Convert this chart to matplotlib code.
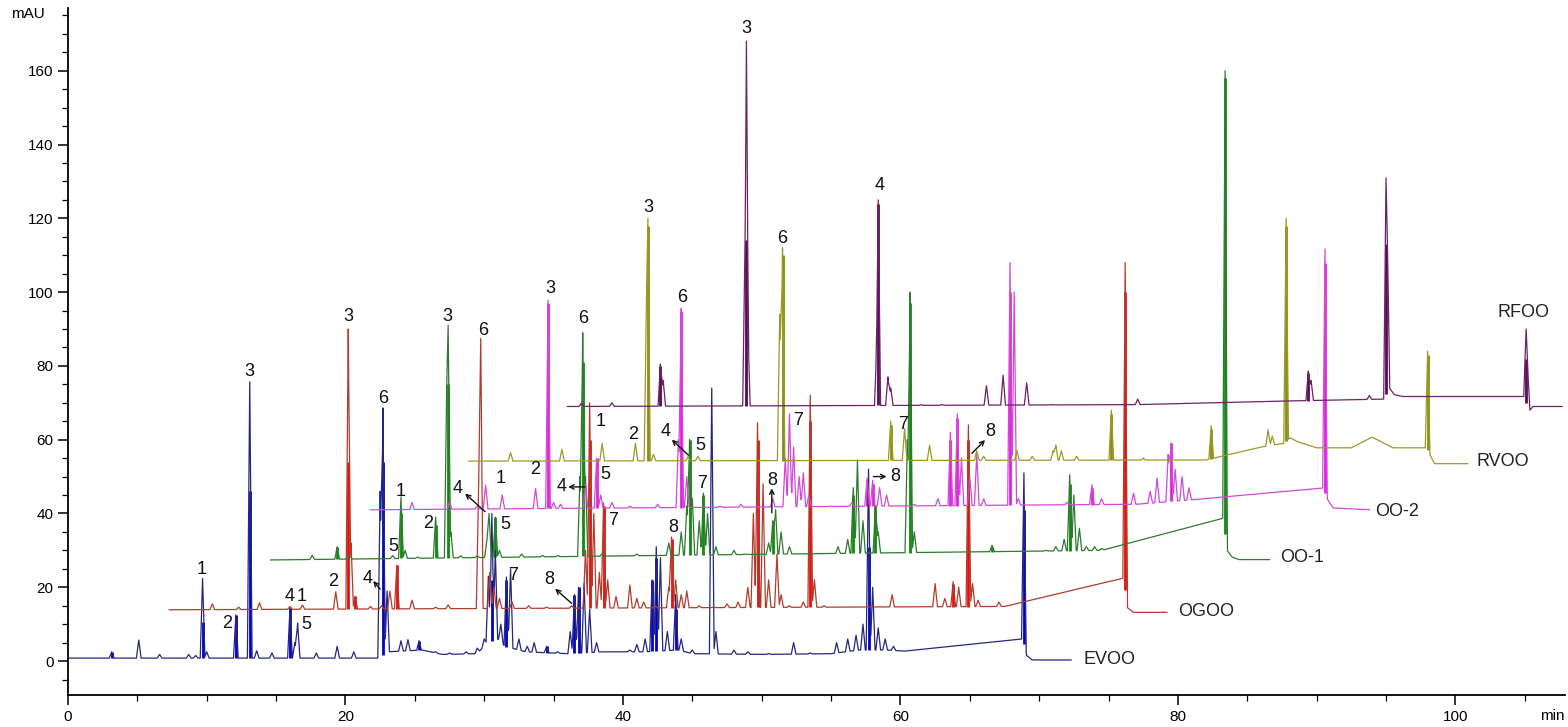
import numpy as np
import matplotlib.pyplot as plt
from matplotlib.ticker import MultipleLocator

plt.rcParams['font.family'] = ['Liberation Sans', 'DejaVu Sans']

# ---- trace data: baseline knots (min, mAU), peak apexes, integration marks ----
names = ["EVOO", "OGOO", "OO-1", "OO-2", "RVOO", "RFOO"]
line_colors = ["#27277a", "#b23c2c", "#2f7a2f", "#d24ad2", "#9a9a28", "#6b2266"]
fill_colors = ["#0000d0", "#e41010", "#108a10", "#e020e0", "#8c8c10", "#580a58"]

evoo_base = [(0, 0.8), (22.4, 0.8), (23.0, 2.5), (25.5, 3.0), (27.0, 1.8), (29.5, 2.0),
             (30.2, 5.0), (31.0, 6.0), (31.5, 4.0), (33.0, 2.5), (36.0, 2.0), (38.5, 2.5),
             (41.5, 2.5), (44.0, 3.0), (45.0, 2.0), (50.0, 1.8), (55.0, 2.0), (57.0, 3.0),
             (59.0, 3.0), (60.3, 2.7), (68.8, 6.0), (69.1, 1.5), (69.5, 0.3), (72.3, 0.3)]
evoo_peaks = [(3.15, 2.5), (5.1, 5.7), (6.6, 1.8), (8.7, 1.8), (9.2, 1.5), (9.7, 22.4),
              (10.0, 2.5), (12.1, 12.5), (13.1, 75.7), (13.6, 2.8), (14.7, 2.2), (16.0, 14.4),
              (16.35, 5.0), (16.55, 10.3), (17.9, 2.2), (19.4, 4.0), (20.6, 2.5), (22.5, 46.0),
              (22.7, 68.6), (23.0, 19.0), (24.0, 5.5), (24.5, 5.8), (25.3, 5.5), (26.5, 2.5),
              (27.5, 2.2), (28.7, 2.5), (29.5, 3.5), (30.0, 6.0), (30.3, 23.0), (30.55, 40.0),
              (30.8, 30.0), (31.2, 10.0), (31.6, 22.8), (31.9, 25.0), (32.5, 6.0), (33.1, 4.0),
              (33.6, 5.0), (34.5, 4.0), (35.3, 2.5), (36.2, 8.0), (36.5, 18.0), (36.8, 20.0),
              (37.2, 21.0), (37.6, 14.0), (38.1, 5.0), (39.5, 2.5), (40.5, 3.0), (41.0, 4.5),
              (41.6, 6.0), (42.1, 22.0), (42.4, 31.0), (42.7, 28.0), (43.2, 8.0), (43.8, 18.0),
              (44.2, 6.0), (45.0, 3.0), (46.4, 74.0), (46.7, 8.0), (48.0, 3.0), (49.0, 2.5),
              (50.5, 2.0), (52.3, 5.0), (53.5, 2.2), (55.4, 5.0), (56.2, 6.0), (56.8, 7.0),
              (57.3, 10.0), (57.7, 52.0), (58.0, 20.0), (58.4, 9.0), (58.9, 6.0), (59.5, 4.0),
              (68.9, 51.0)]
evoo_fills = [(3.15, 2.5), (9.7, 10.6), (12.1, 12.5), (13.1, 46.0), (16.0, 14.4), (22.7, 54.0),
              (25.3, 5.5), (30.55, 22.0), (31.6, 22.0), (34.5, 4.0), (36.5, 18.0), (36.8, 20.0),
              (42.1, 22.0), (42.4, 28.0), (43.8, 14.0), (57.7, 31.0), (68.9, 41.0)]

ogoo_base = [(7.3, 13.9), (67.5, 14.8), (76.1, 22.5), (76.35, 14.5), (76.8, 13.2), (79.2, 13.2)]
ogoo_peaks = [(10.4, 15.5), (12.3, 14.6), (13.8, 15.8), (16.0, 14.8), (16.9, 15.2), (19.3, 18.8),
              (20.2, 90.0), (20.4, 32.0), (20.7, 17.5), (21.8, 14.8), (22.6, 15.0), (23.2, 19.0),
              (23.7, 26.0), (24.8, 16.5), (26.5, 14.6), (27.4, 15.2), (29.6, 48.0), (29.75, 87.5),
              (30.4, 24.0), (30.7, 20.0), (31.1, 17.0), (32.0, 16.0), (33.2, 15.0), (34.5, 14.6),
              (36.3, 15.0), (37.3, 30.0), (37.6, 70.0), (37.9, 40.0), (38.3, 24.0), (38.6, 42.8),
              (38.9, 22.0), (39.5, 17.5), (40.5, 20.6), (41.0, 17.0), (41.5, 16.0), (42.3, 15.0),
              (43.3, 20.0), (43.5, 33.6), (43.8, 22.0), (44.2, 18.0), (44.6, 19.0), (45.5, 15.0),
              (46.5, 14.6), (47.5, 15.5), (48.3, 16.0), (49.0, 20.0), (49.4, 40.0), (49.7, 64.6),
              (50.1, 48.0), (50.5, 22.0), (51.1, 29.0), (51.4, 18.0), (52.0, 15.0), (53.0, 16.0),
              (53.5, 72.0), (53.8, 22.0), (54.5, 15.0), (56.0, 14.6), (57.5, 14.3), (59.4, 18.0),
              (60.5, 14.6), (62.5, 21.0), (63.2, 17.0), (63.8, 21.5), (64.2, 20.0), (64.9, 64.0),
              (65.2, 21.0), (65.6, 16.5), (67.1, 16.0), (76.2, 108.0)]
ogoo_fills = [(20.2, 54.0), (20.7, 17.5), (23.7, 26.0), (37.6, 60.0), (38.6, 42.0), (43.5, 33.0),
              (49.7, 60.0), (53.5, 65.0), (63.8, 21.0), (64.9, 60.0), (76.2, 100.0)]

oo1_base = [(14.6, 27.4), (74.5, 30.0), (83.25, 38.7), (83.55, 30.0), (83.9, 28.2), (84.4, 27.5),
            (86.6, 27.5)]
oo1_peaks = [(17.6, 28.7), (19.4, 31.0), (20.3, 28.6), (23.4, 28.6), (24.0, 44.5), (24.3, 30.0),
             (25.2, 28.2), (26.5, 39.0), (27.3, 75.0), (27.4, 91.0), (27.6, 35.0), (28.3, 28.5),
             (29.5, 28.5), (30.2, 33.0), (30.35, 40.0), (30.8, 39.0), (31.1, 30.0), (32.7, 29.0),
             (34.2, 28.6), (35.3, 28.6), (36.9, 50.0), (37.1, 89.0), (37.3, 50.0), (38.5, 29.0),
             (40.0, 28.5), (41.0, 29.0), (42.5, 28.5), (43.3, 32.0), (44.2, 35.0), (44.6, 42.0),
             (44.8, 60.0), (45.0, 44.0), (45.5, 38.0), (45.8, 45.5), (46.1, 40.0), (46.7, 31.0),
             (48.0, 30.0), (48.8, 29.0), (50.5, 32.0), (50.8, 38.0), (51.0, 41.0), (51.4, 35.0),
             (52.0, 31.0), (54.5, 29.0), (55.5, 31.0), (56.2, 33.0), (56.6, 47.0), (56.9, 54.5),
             (57.3, 38.0), (58.2, 42.0), (58.4, 35.0), (59.5, 29.0), (60.5, 60.0), (60.7, 100.0),
             (61.0, 35.0), (62.0, 28.5), (63.5, 28.2), (65.0, 28.6), (66.6, 31.4), (67.5, 28.6),
             (69.0, 29.0), (70.5, 30.0), (71.2, 31.0), (71.8, 33.0), (72.2, 50.5), (72.5, 45.0),
             (72.9, 36.0), (73.4, 31.0), (74.0, 31.0), (74.5, 30.5), (83.4, 160.0)]
oo1_fills = [(19.4, 31.0), (24.0, 40.0), (26.5, 37.0), (27.4, 75.0), (30.8, 39.0), (37.1, 81.0),
             (44.8, 60.0), (45.8, 45.0), (50.8, 38.0), (56.6, 45.0), (58.2, 42.0), (60.7, 97.0),
             (66.6, 31.0), (72.2, 48.0), (83.4, 158.0)]

oo2_base = [(21.8, 41.0), (77.0, 42.5), (81.0, 43.7), (90.45, 46.9), (90.75, 44.0),
            (91.2, 41.5), (93.8, 41.0)]
oo2_peaks = [(24.8, 43.0), (27.5, 43.0), (29.5, 42.0), (30.1, 47.7), (31.3, 45.0), (33.7, 46.8),
             (34.6, 97.8), (35.0, 43.0), (35.5, 42.5), (37.3, 48.0), (38.1, 55.0), (38.4, 45.0),
             (39.2, 43.0), (40.5, 42.0), (42.5, 42.5), (44.0, 60.0), (44.2, 95.6), (44.6, 50.0),
             (47.0, 42.0), (48.5, 42.5), (50.8, 44.0), (51.7, 55.0), (52.0, 67.0), (52.3, 58.0),
             (52.7, 50.0), (53.0, 51.0), (53.4, 45.0), (55.0, 42.0), (56.5, 43.0), (57.6, 49.6),
             (58.0, 49.0), (58.5, 47.0), (59.0, 45.0), (61.0, 42.5), (62.7, 44.0), (63.6, 62.0),
             (64.1, 67.0), (64.4, 55.0), (65.0, 50.0), (65.5, 56.0), (66.0, 44.0), (67.9, 108.0),
             (68.2, 100.0), (68.5, 44.0), (70.0, 42.0), (72.0, 43.0), (73.8, 47.8), (74.5, 44.0),
             (76.8, 45.5), (78.0, 46.0), (78.5, 49.6), (79.3, 56.0), (79.5, 59.0), (79.8, 52.0),
             (80.3, 50.0), (80.8, 47.0), (90.6, 111.7)]
oo2_fills = [(34.6, 97.0), (38.1, 55.0), (44.2, 95.0), (57.6, 49.0), (58.0, 48.0), (63.6, 60.0),
             (64.1, 66.0), (73.8, 47.0), (79.5, 59.0), (67.9, 100.0), (90.6, 108.0)]

rvoo_base = [(28.9, 54.2), (82.0, 54.5), (86.0, 58.0), (87.6, 59.0), (88.1, 60.5), (88.6, 59.5),
             (90.0, 57.8), (92.5, 57.8), (94.0, 60.7), (95.5, 57.8), (97.9, 57.8), (98.15, 56.0),
             (98.5, 53.5), (100.9, 53.5)]
rvoo_peaks = [(31.9, 56.5), (35.6, 57.4), (38.5, 59.0), (40.9, 59.0), (41.7, 100.0), (41.8, 120.0),
              (42.2, 56.0), (44.7, 55.5), (45.4, 55.5), (51.3, 94.0), (51.5, 112.0), (59.3, 65.0),
              (60.3, 63.0), (62.1, 58.5), (65.5, 57.0), (66.0, 55.5), (68.4, 57.0), (69.5, 55.5),
              (71.0, 57.0), (71.2, 58.5), (71.6, 57.0), (72.7, 55.5), (75.2, 68.0), (77.5, 55.0),
              (82.4, 63.8), (86.5, 62.7), (86.8, 61.0), (87.8, 120.0), (98.0, 84.0)]
rvoo_fills = [(41.8, 118.0), (51.5, 110.0), (59.3, 64.0), (75.2, 67.0), (82.4, 63.0),
              (87.8, 118.0), (98.0, 83.0)]

rfoo_base = [(36.0, 69.0), (77.0, 69.5), (88.0, 70.5), (94.9, 71.0), (95.15, 74.5), (95.6, 72.2),
             (96.2, 71.7), (105.0, 71.7), (105.25, 67.5), (105.6, 69.0), (107.7, 69.0)]
rfoo_peaks = [(37.0, 69.8), (39.2, 70.0), (42.7, 80.5), (42.9, 76.0), (48.8, 114.0), (48.9, 168.0),
              (49.0, 90.0), (58.3, 86.0), (58.4, 125.0), (59.1, 77.0), (59.3, 74.0), (61.5, 69.5),
              (63.0, 69.5), (66.2, 74.6), (67.4, 77.5), (69.1, 75.4), (71.0, 69.5), (77.1, 71.0),
              (83.1, 69.8), (89.4, 78.6), (89.6, 76.0), (93.8, 72.0), (95.0, 131.0), (95.1, 113.0),
              (105.1, 90.0), (105.2, 81.0)]
rfoo_fills = [(42.7, 80.0), (48.9, 114.0), (58.4, 124.0), (89.4, 78.0), (95.0, 113.0), (105.1, 82.0)]

bases = [evoo_base, ogoo_base, oo1_base, oo2_base, rvoo_base, rfoo_base]
peaks = [evoo_peaks, ogoo_peaks, oo1_peaks, oo2_peaks, rvoo_peaks, rfoo_peaks]
fills = [evoo_fills, ogoo_fills, oo1_fills, oo2_fills, rvoo_fills, rfoo_fills]

# trace name labels (min, mAU)
name_pos = [(73.2, 0.3), (80.0, 13.5), (87.4, 28.0), (94.2, 40.5), (101.5, 54.0), (103.0, 94.5)]

# peak number labels (text, min, mAU)
peak_labels = [("1", 9.64, 24.8), ("2", 11.5, 10.2), ("3", 13.07, 78.5), ("4", 16.0, 17.4),
               ("1", 16.85, 17.4), ("5", 17.16, 9.8), ("6", 22.69, 71.2), ("7", 32.06, 23.3),
               ("8", 34.7, 22.0),
               ("2", 19.13, 21.5), ("3", 20.2, 93.5), ("4", 21.58, 22.4), ("5", 23.45, 31.0),
               ("6", 29.95, 89.7), ("7", 39.3, 38.0), ("8", 43.64, 36.2),
               ("1", 23.94, 46.0), ("2", 25.98, 37.3), ("3", 27.35, 93.5), ("4", 28.1, 46.8),
               ("5", 31.5, 36.9), ("6", 37.15, 92.9), ("7", 45.7, 48.0),
               ("1", 31.15, 49.5), ("2", 33.67, 51.8), ("3", 34.75, 101.0), ("4", 35.55, 47.2),
               ("5", 38.72, 50.5), ("6", 44.24, 98.6), ("7", 52.65, 65.3), ("8", 50.73, 49.0),
               ("8", 59.6, 50.0),
               ("1", 38.36, 64.9), ("2", 40.76, 61.5), ("3", 41.8, 123.0), ("4", 43.04, 62.1),
               ("5", 45.57, 58.5), ("6", 51.5, 114.6), ("7", 60.2, 64.2), ("8", 66.47, 62.1),
               ("3", 48.9, 171.5), ("4", 58.5, 129.0)]

# small arrows: (tail min, tail mAU, head min, head mAU)
arrows = [(36.31, 15.6, 35.11, 19.6), (22.5, 19.5, 22.0, 21.7), (30.06, 40.5, 28.62, 45.4),
          (37.27, 47.2, 36.05, 47.2), (50.73, 40.2, 50.73, 46.8), (58.06, 50.0, 59.0, 50.0),
          (44.72, 55.8, 43.52, 60.0), (65.15, 56.3, 66.1, 59.9)]


def trace_xy(base, pk, w=0.17):
    # upper envelope of triangular peaks sitting on the baseline, taken at the vertices
    bt, bv = np.array(base).T
    pt = np.array([p[0] for p in pk])
    ph = np.array([p[1] for p in pk]) - np.interp(pt, bt, bv)
    ts = np.unique(np.concatenate([bt, pt, pt - w, pt + w]))
    ts = ts[(ts >= bt[0]) & (ts <= bt[-1])]
    b = np.interp(ts, bt, bv)
    tri = ph[None, :] * np.clip(1 - np.abs(ts[:, None] - pt[None, :]) / w, 0, None)
    return ts, b + np.maximum(tri.max(axis=1), 0)


fig = plt.figure(figsize=(15.68, 7.27), dpi=100)
ax = fig.add_axes([68 / 1568, 32 / 727, 1 - 71 / 1568, 687 / 727])

for i in range(len(names)):
    x, y = trace_xy(bases[i], peaks[i])
    ax.plot(x, y, color=line_colors[i], lw=0.9, zorder=2 + i * 0.01)
    bt, bv = np.array(bases[i]).T
    for t, v in fills[i]:
        b0 = float(np.interp(t, bt, bv))
        ax.plot([t, t], [b0, v], color=fill_colors[i], lw=2.0, solid_capstyle='butt',
                zorder=1.5)
    ax.text(name_pos[i][0], name_pos[i][1], names[i], fontsize=13, ha='left', va='center',
            color='#222222')

for s, t, v in peak_labels:
    ax.text(t, v, s, fontsize=13, ha='center', va='center', color='#111111', zorder=5)

for t0, v0, t1, v1 in arrows:
    ax.annotate('', xy=(t1, v1), xytext=(t0, v0),
                arrowprops=dict(arrowstyle='->', color='#111111', lw=1.0,
                                shrinkA=0, shrinkB=0, mutation_scale=8), zorder=5)

ax.set_xlim(0, 107.9)
ax.set_ylim(-9.2, 177)
for side in ('top', 'right'):
    ax.spines[side].set_visible(False)
ax.spines['left'].set_linewidth(1.3)
ax.spines['bottom'].set_linewidth(1.3)
ax.xaxis.set_major_locator(MultipleLocator(20))
ax.xaxis.set_minor_locator(MultipleLocator(5))
ax.yaxis.set_major_locator(MultipleLocator(20))
ax.yaxis.set_minor_locator(MultipleLocator(5))
ax.tick_params(which='major', length=7, width=1.1, labelsize=11)
ax.tick_params(which='minor', length=4, width=0.9)
ax.set_yticks(np.arange(0, 161, 20))

fig.text(28 / 1568, 1 - 14 / 727, 'mAU', fontsize=11, ha='center', va='center')
fig.text(1552 / 1568, 1 - 716 / 727, 'min', fontsize=11, ha='center', va='center')

fig.savefig('out.png', dpi=100)
